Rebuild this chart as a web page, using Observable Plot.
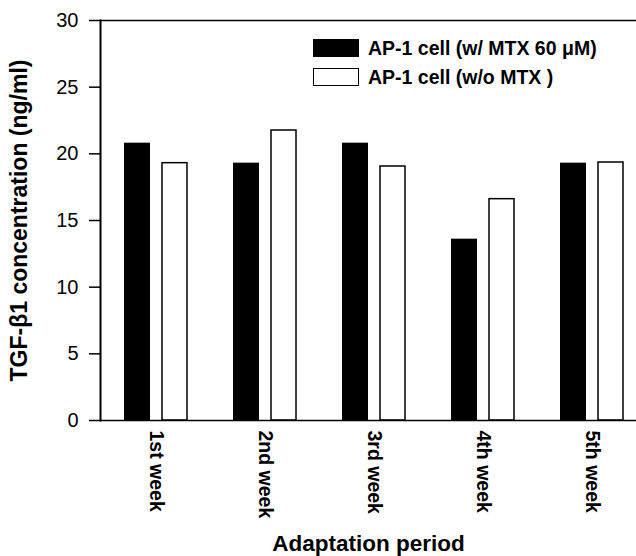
<!DOCTYPE html>
<html>
<head>
<meta charset="utf-8">
<script src="https://cdn.jsdelivr.net/npm/d3@7"></script>
<script src="https://cdn.jsdelivr.net/npm/@observablehq/plot@0.6"></script>
<style>
  html, body { margin: 0; padding: 0; background: #fff; }
  #wrap { position: relative; width: 636px; height: 556px; font-family: "Liberation Sans", Arial, sans-serif; }
  #legend { position: absolute; left: 313px; top: 39px; }
  .row { display: flex; align-items: center; height: 18px; margin-bottom: 11px; }
  .sw { width: 46px; height: 18px; box-sizing: border-box; margin-right: 9px; }
  .lab { font-size: 19.5px; font-weight: bold; color: #000; white-space: nowrap; }
  g[aria-label="y-axis label"] text { font-weight: bold; font-size: 23px; }
  g[aria-label="x-axis label"] text { font-weight: bold; font-size: 22.5px; }
  g[aria-label="x-axis tick label"] text { font-weight: bold; font-size: 19.5px; }
  g[aria-label="y-axis tick label"] text { font-size: 20px; }
</style>
</head>
<body>
<div id="wrap"></div>
<script>
const weeks = ["1st week", "2nd week", "3rd week", "4th week", "5th week"];
const withMTX = [20.8, 19.3, 20.8, 13.6, 19.3];
const withoutMTX = [19.3, 21.75, 19.05, 16.6, 19.35];
const seriesNames = ["AP-1 cell (w/ MTX 60 \u03bcM)", "AP-1 cell (w/o MTX )"];
const yTicks = [0, 5, 10, 15, 20, 25, 30];

const rowsA = weeks.map((w, i) => ({week: w, value: withMTX[i]}));
const rowsB = weeks.map((w, i) => ({week: w, value: withoutMTX[i]}));

const chart = Plot.plot({
  width: 636,
  height: 556,
  marginTop: 20,
  marginBottom: 136,
  marginLeft: 100,
  marginRight: 0,
  style: {fontFamily: "'Liberation Sans', Arial, sans-serif", fontSize: "19px", color: "#000", background: "#fff"},
  x: {domain: weeks, paddingInner: 0.424, paddingOuter: 0.162, align: 0.65},
  y: {domain: [0, 30]},
  marks: [
    Plot.barY(rowsA, {x: "week", y: "value", fill: "#000", insetRight: 37}),
    Plot.barY(rowsB, {x: "week", y: "value", fill: "#fff", stroke: "#000", strokeWidth: 1.5, insetLeft: 38}),
    Plot.ruleY([0, 30], {stroke: "#000", strokeWidth: 1.5}),
    Plot.frame({anchor: "left", stroke: "#000", strokeWidth: 2}),
    Plot.axisY({ticks: yTicks, tickSize: 11, tickPadding: 11, strokeWidth: 1.5,
      label: "TGF-\u03b21 concentration (ng/ml)", labelAnchor: "center", labelArrow: "none", labelOffset: 90}),
    Plot.axisX({tickSize: 0, tickPadding: 10, tickRotate: 90,
      label: "Adaptation period", labelAnchor: "center", labelArrow: "none", labelOffset: 130})
  ]
});
const wrap = document.getElementById("wrap");
wrap.appendChild(chart);

const legend = document.createElement("div");
legend.id = "legend";
const swatchStyles = [
  {background: "#000", border: "1px solid #000"},
  {background: "#fff", border: "1.5px solid #000"}
];
seriesNames.forEach((name, i) => {
  const row = document.createElement("div");
  row.className = "row";
  const sw = document.createElement("div");
  sw.className = "sw";
  Object.assign(sw.style, swatchStyles[i]);
  const lab = document.createElement("span");
  lab.className = "lab";
  lab.textContent = name;
  row.appendChild(sw);
  row.appendChild(lab);
  legend.appendChild(row);
});
wrap.appendChild(legend);
</script>
</body>
</html>
